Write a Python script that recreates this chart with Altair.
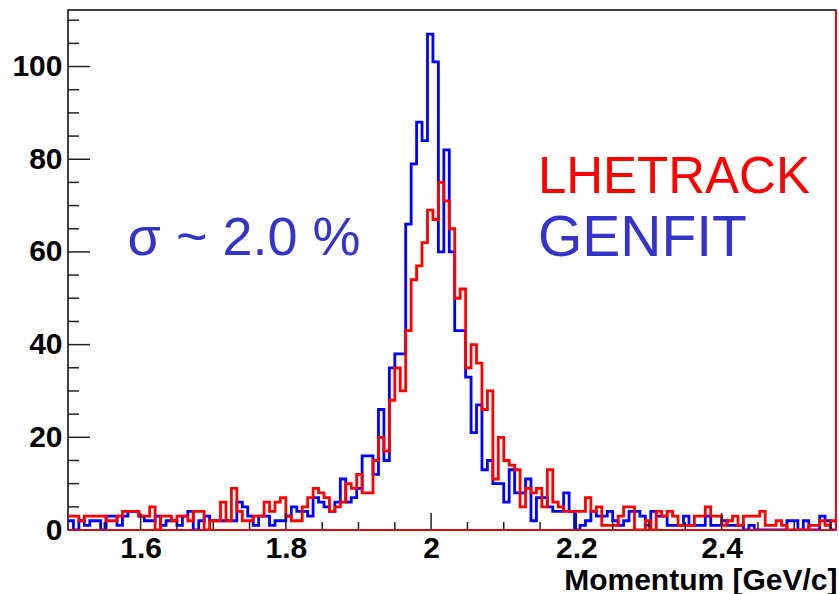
import altair as alt
import pandas as pd

# Histogram binning (GeV/c)
BIN_START = 1.5
BIN_WIDTH = 0.0075
X_MAX = 2.5575
Y_MAX = 112.2

# GENFIT momentum counts per bin (blue)
genfit = [
    2, 0, 2, 1, 2, 2, 0, 3, 3, 1,
    3, 4, 4, 3, 2, 2, 3, 1, 2, 2,
    1, 3, 4, 0, 2, 3, 2, 2, 2, 2,
    2, 6, 5, 3, 1, 3, 3, 1, 2, 2,
    3, 5, 4, 4, 3, 7, 6, 5, 4, 6,
    11, 6, 7, 9, 16, 16, 12, 26, 15, 35,
    38, 38, 66, 79, 88, 84, 107, 101, 60, 82,
    60, 43, 43, 33, 21, 27, 13, 15, 10, 10,
    6, 13, 8, 8, 11, 2, 7, 7, 5, 4,
    4, 8, 4, 0, 1, 2, 4, 3, 3, 4,
    2, 1, 2, 4, 4, 3, 1, 4, 3, 3,
    1, 1, 1, 3, 1, 1, 1, 3, 1, 1,
    2, 1, 1, 1, 0, 1, 0, 0, 0, 0,
    0, 0, 2, 2, 0, 2, 0, 0, 3, 2,
    0,
]

# LHETRACK momentum counts per bin (red)
lhetrack = [
    3, 3, 2, 3, 3, 3, 3, 2, 2, 3,
    4, 4, 4, 3, 3, 5, 0, 3, 3, 2,
    3, 3, 2, 4, 4, 0, 2, 2, 6, 2,
    9, 4, 2, 2, 3, 3, 6, 4, 6, 7,
    3, 2, 2, 5, 7, 9, 8, 7, 4, 5,
    6, 10, 9, 12, 8, 8, 15, 20, 17, 28,
    35, 30, 43, 54, 57, 62, 69, 67, 75, 71,
    65, 50, 52, 35, 40, 36, 26, 30, 11, 20,
    15, 14, 13, 5, 9, 8, 9, 5, 13, 6,
    5, 4, 4, 4, 4, 7, 4, 5, 1, 1,
    1, 3, 5, 5, 0, 0, 2, 0, 4, 3,
    4, 3, 1, 1, 1, 3, 3, 5, 3, 3,
    1, 2, 3, 1, 3, 3, 3, 4, 1, 1,
    2, 1, 0, 0, 0, 0, 1, 1, 2, 1,
    2,
]

x_major = [1.6, 1.8, 2.0, 2.2, 2.4]
x_minor = [1.55, 1.65, 1.7, 1.75, 1.85, 1.9, 1.95, 2.05, 2.1, 2.15,
           2.25, 2.3, 2.35, 2.45, 2.5, 2.55]
y_major = [0, 20, 40, 60, 80, 100]
y_minor = [5, 10, 15, 25, 30, 35, 45, 50, 55, 65, 70, 75, 85, 90, 95, 105, 110]

W, H = 768, 520
FONT = "Liberation Sans"
TEXT_BLUE = "#3434c8"


def step_frame(counts):
    """Left bin edges plus the closing right edge, for a step outline."""
    rows = [{"p": BIN_START + i * BIN_WIDTH, "n": c} for i, c in enumerate(counts)]
    rows.append({"p": BIN_START + len(counts) * BIN_WIDTH, "n": counts[-1]})
    return pd.DataFrame(rows)


xs = alt.Scale(domain=[BIN_START, X_MAX], nice=False, zero=False)
ys = alt.Scale(domain=[0, Y_MAX], nice=False, zero=False)

x_axis = alt.Axis(
    values=x_major, format="~g", ticks=False, domain=False, grid=False,
    labelFont=FONT, labelFontWeight="bold", labelFontSize=30, labelColor="black",
    labelPadding=3, labelFlush=False, labelOverlap=False,
    title="Momentum [GeV/c]", titleFont=FONT, titleFontWeight="bold",
    titleFontSize=30, titleColor="black", titleAnchor="end", titleAlign="right",
    titleX=W + 1, titleY=59, titleBaseline="alphabetic",
)
y_axis = alt.Axis(
    values=y_major, ticks=False, domain=False, grid=False,
    labelFont=FONT, labelFontWeight="bold", labelFontSize=30, labelColor="black",
    labelPadding=6, labelFlush=False, labelOverlap=False, title="",
)


def X(field):
    return alt.X(field, scale=xs, axis=x_axis)


def Y(field):
    return alt.Y(field, scale=ys, axis=y_axis)


blue = alt.Chart(step_frame(genfit)).mark_line(
    interpolate="step-after", color="#0000ff", strokeWidth=2.8, clip=True
).encode(x=X("p:Q"), y=Y("n:Q"))

red = alt.Chart(step_frame(lhetrack)).mark_line(
    interpolate="step-after", color="#ff0000", strokeWidth=2.8, clip=True
).encode(x=X("p:Q"), y=Y("n:Q"))

# Inward tick marks
xt_major = alt.Chart(pd.DataFrame({"p": x_major})).mark_rule(
    color="#222", strokeWidth=1.5
).encode(x=X("p:Q"), y=alt.value(H), y2=alt.value(H - 17))
xt_minor = alt.Chart(pd.DataFrame({"p": x_minor})).mark_rule(
    color="#222", strokeWidth=1.5
).encode(x=X("p:Q"), y=alt.value(H), y2=alt.value(H - 8))
yt_major = alt.Chart(pd.DataFrame({"n": y_major})).mark_rule(
    color="#222", strokeWidth=1.5
).encode(y=Y("n:Q"), x=alt.value(0), x2=alt.value(22))
yt_minor = alt.Chart(pd.DataFrame({"n": y_minor})).mark_rule(
    color="#222", strokeWidth=1.5
).encode(y=Y("n:Q"), x=alt.value(0), x2=alt.value(11))

# Red outline along the bottom and right edges of the frame
red_bottom = alt.Chart(pd.DataFrame({"n": [0]})).mark_rule(
    color="#ff0000", strokeWidth=1.5
).encode(y=Y("n:Q"), x=alt.value(0), x2=alt.value(W))
red_right = alt.Chart(pd.DataFrame({"p": [X_MAX]})).mark_rule(
    color="#ff0000", strokeWidth=2
).encode(x=X("p:Q"), y=alt.value(0), y2=alt.value(H))

labels = pd.DataFrame({
    "p": [1.582, 2.147, 2.147],
    "n": [59.4, 72.7, 59.2],
    "txt": ["\u03c3 ~ 2.0 %", "LHETRACK", "GENFIT"],
    "col": [TEXT_BLUE, "#ff0000", TEXT_BLUE],
    "size": [54, 51, 57],
})
text = alt.Chart(labels).mark_text(
    align="left", baseline="alphabetic", font=FONT
).encode(
    x=X("p:Q"),
    y=Y("n:Q"),
    text="txt:N",
    color=alt.Color("col:N", scale=None),
    size=alt.Size("size:Q", scale=None),
)

chart = alt.layer(
    blue, red, xt_major, xt_minor, yt_major, yt_minor, red_bottom, red_right, text
).properties(
    width=W, height=H,
    autosize=alt.AutoSizeParams(type="none"),
    padding={"left": 68, "top": 10, "right": 3, "bottom": 64},
    background="white",
).configure_view(stroke="black", strokeWidth=1.5)

chart.save("out.html", embed_options={"renderer": "svg", "actions": False})
